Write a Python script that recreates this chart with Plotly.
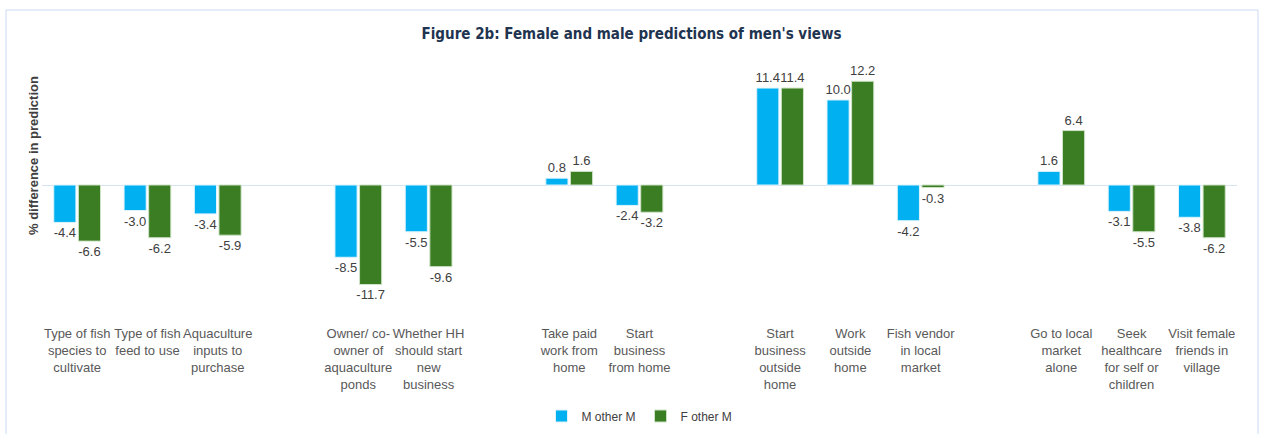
import plotly.graph_objects as go

categories = [
    "Type of fish<br>species to<br>cultivate",
    "Type of fish<br>feed to use",
    "Aquaculture<br>inputs to<br>purchase",
    " ",
    "Owner/ co-<br>owner of<br>aquaculture<br>ponds",
    "Whether HH<br>should start<br>new<br>business",
    "  ",
    "Take paid<br>work from<br>home",
    "Start<br>business<br>from home",
    "   ",
    "Start<br>business<br>outside<br>home",
    "Work<br>outside<br>home",
    "Fish vendor<br>in local<br>market",
    "    ",
    "Go to local<br>market<br>alone",
    "Seek<br>healthcare<br>for self or<br>children",
    "Visit female<br>friends in<br>village",
]
m_other_m = [-4.4, -3.0, -3.4, None, -8.5, -5.5, None, 0.8, -2.4, None, 11.4, 10.0, -4.2, None, 1.6, -3.1, -3.8]
f_other_m = [-6.6, -6.2, -5.9, None, -11.7, -9.6, None, 1.6, -3.2, None, 11.4, 12.2, -0.3, None, 6.4, -5.5, -6.2]
series_names = ["M other M", "F other M"]

def labels(vals):
    return ["" if v is None else f"{v:.1f}" for v in vals]

LABEL_FONT = dict(family="Liberation Sans, Arial", size=13, color="#404040")

fig = go.Figure()
fig.add_trace(go.Bar(
    x=categories, y=m_other_m, name=series_names[0],
    marker=dict(color="#00B0F0", line=dict(color="#DDF3FC", width=1)),
    text=labels(m_other_m), textposition="outside", cliponaxis=False,
    constraintext="none", textfont=LABEL_FONT,
))
fig.add_trace(go.Bar(
    x=categories, y=f_other_m, name=series_names[1],
    marker=dict(color="#3A7D22", line=dict(color="#CFE3C7", width=1)),
    text=labels(f_other_m), textposition="outside", cliponaxis=False,
    constraintext="none", textfont=LABEL_FONT,
))

L, T, W, H = 42, 60, 1195, 250
fig.update_layout(
    width=1263, height=434,
    margin=dict(l=L, r=1263 - L - W, t=T, b=434 - T - H, autoexpand=False),
    paper_bgcolor="white", plot_bgcolor="white",
    barmode="group", bargap=0.30, bargroupgap=0.1,
    title=dict(text="<b>Figure 2b: Female and male predictions of men's views</b>",
               x=0.5, xanchor="center", y=1 - 34 / 434, yanchor="middle",
               font=dict(family="DejaVu Sans Condensed, Liberation Sans", size=15, color="#1F3450")),
    showlegend=True,
    legend=dict(orientation="h", x=0.5, xanchor="center", y=(T + H - 416) / H, yanchor="middle",
                font=dict(family="Liberation Sans, Arial", size=12, color="#404040"),
                itemwidth=30, traceorder="normal"),
    font=dict(family="Liberation Sans, Arial", color="#595959"),
)
fig.update_xaxes(
    type="category", showgrid=False, showline=False, ticks="", automargin=False,
    tickangle=0, tickfont=dict(family="Liberation Sans, Arial", size=13, color="#595959"),
    ticklabelstandoff=14,
)
fig.update_yaxes(
    range=[-14.7, 14.7], showgrid=False, showticklabels=False, ticks="", automargin=False,
    zeroline=True, zerolinecolor="#D6E3F3", zerolinewidth=1,
)
fig.add_annotation(
    text="<b>% difference in prediction</b>", textangle=-90,
    xref="paper", yref="paper", x=(33 - L) / W, y=(T + H - 156) / H,
    xanchor="center", yanchor="middle", showarrow=False,
    font=dict(family="Liberation Sans, Arial", size=13, color="#404040"),
)
fig.add_shape(
    type="rect", xref="paper", yref="paper",
    x0=(6 - L) / W, x1=(1258 - L) / W, y0=(T + H - 440) / H, y1=(T + H - 10) / H,
    line=dict(color="#C9DCF0", width=1), fillcolor="rgba(0,0,0,0)", layer="below",
)
fig.write_html("out.html", config={"displayModeBar": False},
               post_script="document.body.style.margin='0';document.body.style.overflow='hidden';")
